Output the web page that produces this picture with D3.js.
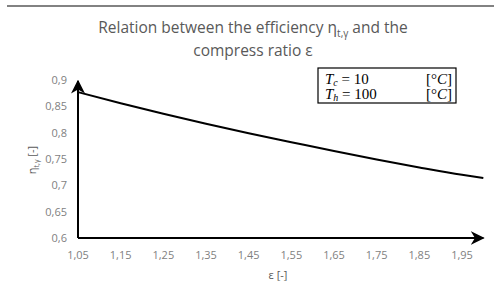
<!DOCTYPE html>
<html>
<head>
<meta charset="utf-8">
<script src="https://cdn.jsdelivr.net/npm/d3@7"></script>
<style>
  body { margin: 0; background: #fff; }
  text { font-family: "Open Sans", "Noto Sans", sans-serif; fill: #595959; }
  .math { font-family: "Liberation Serif", "DejaVu Serif", serif; fill: #000; }
</style>
</head>
<body>
<svg id="chart" width="494" height="295"></svg>
<script>
const ratio = [1.05, 1.15, 1.25, 1.35, 1.45, 1.55, 1.65, 1.75, 1.85, 1.95, 2.0];
const efficiency = [0.877, 0.856, 0.836, 0.817, 0.799, 0.782, 0.765, 0.749, 0.734, 0.720, 0.714];
const xTicks = [1.05, 1.15, 1.25, 1.35, 1.45, 1.55, 1.65, 1.75, 1.85, 1.95];
const yTicks = [0.6, 0.65, 0.7, 0.75, 0.8, 0.85, 0.9];
const params = [['c', '10'], ['h', '100']];

const svg = d3.select('#chart');
const fmt = (d) => String(d).replace('.', ',');

const x = d3.scaleLinear().domain([1.05, 1.95]).range([78, 462]);
const y = d3.scaleLinear().domain([0.6, 0.9]).range([238, 80]);

// top border line
svg.append('line').attr('x1', 7).attr('x2', 494).attr('y1', 6).attr('y2', 6)
  .attr('stroke', '#595959').attr('stroke-width', 1.5);

// title
const title = svg.append('text').attr('x', 253).attr('y', 33)
  .attr('text-anchor', 'middle').style('font-size', '15.5px');
title.append('tspan').text('Relation between the efficiency η');
title.append('tspan').attr('dy', 4).style('font-size', '10px').text('t,γ');
title.append('tspan').attr('dy', -4).text(' and the');
svg.append('text').attr('x', 253).attr('y', 56)
  .attr('text-anchor', 'middle').style('font-size', '15.5px').text('compress ratio ε');

// arrow marker
svg.append('defs').append('marker')
  .attr('id', 'arrow').attr('viewBox', '0 0 10 10').attr('refX', 9).attr('refY', 5)
  .attr('markerWidth', 7).attr('markerHeight', 7).attr('orient', 'auto')
  .append('path').attr('d', 'M0,0 L10,5 L0,10 L3,5 Z').attr('fill', '#000');

// axes lines with arrows
svg.append('line').attr('x1', x(1.05)).attr('y1', y(0.6)).attr('x2', x(1.05)).attr('y2', y(0.9) + 1)
  .attr('stroke', '#000').attr('stroke-width', 2).attr('marker-end', 'url(#arrow)');
svg.append('line').attr('x1', x(1.05)).attr('y1', y(0.6)).attr('x2', x(2.0)).attr('y2', y(0.6))
  .attr('stroke', '#000').attr('stroke-width', 2).attr('marker-end', 'url(#arrow)');

// tick labels
svg.append('g').selectAll('text').data(yTicks).join('text')
  .attr('x', 67).attr('y', (d) => y(d) + 4).attr('text-anchor', 'end')
  .style('font-size', '11px').style('fill', '#7f7f7f').text(fmt);
svg.append('g').selectAll('text').data(xTicks).join('text')
  .attr('x', (d) => x(d)).attr('y', 259).attr('text-anchor', 'middle')
  .style('font-size', '11px').style('fill', '#7f7f7f').text(fmt);

// axis titles
svg.append('text').attr('x', 278).attr('y', 279).attr('text-anchor', 'middle')
  .style('font-size', '11px').text('ε [-]');
const yt = svg.append('text').attr('transform', 'translate(36,160) rotate(-90)')
  .attr('text-anchor', 'middle').style('font-size', '11px');
yt.append('tspan').text('η');
yt.append('tspan').attr('dy', 3).style('font-size', '7px').text('t,γ');
yt.append('tspan').attr('dy', -3).text(' [-]');

// curve
const line = d3.line().x((d, i) => x(ratio[i])).y((d) => y(d)).curve(d3.curveMonotoneX);
svg.append('path').datum(efficiency).attr('d', line)
  .attr('fill', 'none').attr('stroke', '#000').attr('stroke-width', 2);

// parameter box
svg.append('rect').attr('x', 318).attr('y', 68).attr('width', 138).attr('height', 35)
  .attr('fill', '#fff').attr('stroke', '#000').attr('stroke-width', 1.2);
params.forEach((p, i) => {
  const t = svg.append('text').attr('class', 'math').attr('x', 325).attr('y', 84 + i * 15)
    .style('font-size', '15px');
  t.append('tspan').style('font-style', 'italic').text('T');
  t.append('tspan').attr('dy', 2).style('font-style', 'italic').style('font-size', '10px').text(p[0]);
  t.append('tspan').attr('dy', -2).text(' = ' + p[1]);
  svg.append('text').attr('class', 'math').attr('x', 452).attr('y', 84 + i * 15)
    .attr('text-anchor', 'end').style('font-size', '15px')
    .html('[°<tspan font-style="italic">C</tspan>]');
});
</script>
</body>
</html>
